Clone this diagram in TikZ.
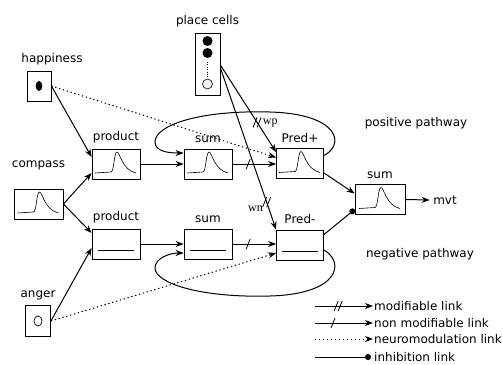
\documentclass[tikz,border=0pt]{standalone}
\usepackage{fontspec}
\setmainfont{DejaVu Sans}
\newfontfamily\wfont{Liberation Serif}
\usetikzlibrary{arrows.meta,decorations.markings}

\tikzset{
  unit/.style={draw, line width=0.8pt, minimum width=48pt, minimum height=30pt, inner sep=0},
  cell/.style={draw, line width=0.8pt, minimum width=25pt, minimum height=30pt, inner sep=0},
  link/.style={line width=1pt, -{Stealth[length=8pt,width=6pt,inset=2.5pt]}},
  neuro/.style={link, dash pattern=on 1.3pt off 2.7pt},
  inhib/.style={line width=1pt, -{Circle[length=6pt]}},
  modif/.style={decoration={markings, mark=at position #1 with
    {\pgftransformresetnontranslations
     \draw[-, solid, line width=0.8pt] (-4pt,-5pt) -- (0pt,5pt) (0pt,-5pt) -- (4pt,5pt);}},
    postaction={decorate}},
  fixed/.style={decoration={markings, mark=at position #1 with
    {\pgftransformresetnontranslations
     \draw[-, solid, line width=0.8pt] (-2pt,-5pt) -- (2pt,5pt);}},
    postaction={decorate}},
  legend/.style={anchor=west, inner sep=1pt},
}

% activity profile drawn inside a unit
\newcommand{\bellcurve}[1]{%
  \draw[line width=0.6pt] ([shift={(-21pt,-9pt)}]#1.center) -- ([shift={(-5pt,-8pt)}]#1.center)
    .. controls ([shift={(-2pt,-8pt)}]#1.center) and ([shift={(-2pt,12pt)}]#1.center) .. ([shift={(1pt,12pt)}]#1.center)
    .. controls ([shift={(4pt,12pt)}]#1.center) and ([shift={(6pt,-6pt)}]#1.center) .. ([shift={(20pt,-9pt)}]#1.center);}
\newcommand{\flatline}[1]{%
  \draw[line width=0.6pt] ([shift={(-18pt,-6pt)}]#1.center) -- ([shift={(18pt,-6pt)}]#1.center);}

\begin{document}
\begin{tikzpicture}[x=1pt, y=-1pt, font=\fontsize{12}{14}\selectfont, label distance=2pt]
    \useasboundingbox (0,0) rectangle (503,364);

    % Inputs
    \node[cell, minimum height=62pt, label=above:{place cells}] (place) at (207.5,64) {};
    \node[cell, minimum width=24pt, label={[xshift=13pt]above:happiness}] (happy) at (39,86) {};
    \node[unit, minimum width=49pt, label={[label distance=15pt]above:compass}] (compass) at (38.5,204) {};
    \node[cell, minimum height=31pt, label=above:anger] (anger) at (38,321) {};

    % Positive pathway
    \node[unit, label=above:product] (prodP) at (116,164) {};
    \node[unit, label=above:sum] (sumP) at (208,164) {};
    \node[unit, minimum width=47pt, label=above:{Pred+}] (predP) at (300,163.5) {};

    % Negative pathway
    \node[unit, label=above:product] (prodN) at (116,244) {};
    \node[unit, label=above:sum] (sumN) at (208,244) {};
    \node[unit, minimum width=47pt, label=above:{Pred-}] (predN) at (300,245) {};

    % Output
    \node[unit, minimum width=50pt, label=above:sum] (out) at (380,199.5) {};
    \node (mvt) at (445,200) {mvt};
    \node (pos) at (416,123) {positive pathway};
    \node (neg) at (420,254) {negative pathway};

    % Unit contents
    \fill ([yshift=23pt]place.center) circle (5pt);
    \fill ([yshift=11pt]place.center) circle (5pt);
    \draw[dotted] ([yshift=2pt]place.center) -- ([yshift=-14pt]place.center);
    \draw[line width=0.6pt, fill=gray!10] ([yshift=-20pt]place.center) circle (5pt);
    \fill (happy.center) ellipse [x radius=3.3pt, y radius=5pt];
    \draw[line width=0.7pt] (anger.center) ellipse [x radius=4pt, y radius=5pt];
    \bellcurve{compass}
    \bellcurve{prodP}
    \bellcurve{sumP}
    \bellcurve{predP}
    \bellcurve{out}
    \flatline{prodN}
    \flatline{sumN}
    \flatline{predN}

    % Links
    \draw[link] (happy.east) -- ([yshift=7pt]prodP.west);
    \draw[link] (compass.east) -- ([yshift=-9pt]prodP.west);
    \draw[link] (compass.east) -- ([yshift=11pt]prodN.west);
    \draw[link] (anger.east) -- ([yshift=-4pt]prodN.west);
    \draw[link] (prodP.east) -- (sumP.west);
    \draw[link] (prodN.east) -- (sumN.west);
    \draw[link, fixed=0.36] (sumP.east) -- (sumP.east -| predP.west);
    \draw[link, fixed=0.36] (sumN.east) -- (sumN.east -| predN.west);
    \draw[link, modif=0.66] ([yshift=-1pt]place.east) -- ([yshift=-4pt]predP.north west)
        node[pos=0.66, right=2pt, font=\wfont\fontsize{12}{14}\selectfont] {wp};
    \draw[link, modif=0.83] ([yshift=-4pt]place.east) -- (predN.north west)
        node[pos=0.83, below left=0pt, font=\wfont\fontsize{12}{14}\selectfont] {wn};
    \draw[neuro] (happy.east) -- ([yshift=6pt]predP.west);
    \draw[neuro] (anger.east) -- ([yshift=-8pt]predN.west);

    % Recurrent loops
    \draw[link] ([yshift=8pt]predP.east) .. controls (345,145) and (340,114) .. (270,112)
        .. controls (200,110) and (155,125) .. (155,142)
        .. controls (155,152) and (170,153) .. ([yshift=11pt]sumP.west);
    \draw[link] ([yshift=-5pt]predN.east) .. controls (345,262) and (340,294) .. (270,296)
        .. controls (200,298) and (155,283) .. (155,268)
        .. controls (155,258) and (170,253) .. ([yshift=-9pt]sumN.west);

    \draw[link] ([yshift=6pt]predP.south east) -- ([yshift=6pt]out.west);
    \draw[inhib] ([yshift=-5pt]predN.north east) -- ([yshift=-10pt]out.west);
    \draw[link] (out.east) -- (mvt.west);

    % Legend
    \node[legend] (lmod) at (373,306) {modifiable link};
    \node[legend] (lfix) at (373,323) {non modifiable link};
    \node[legend] (lneu) at (373,339) {neuromodulation link};
    \node[legend] (linh) at (373,357) {inhibition link};
    \coordinate (smod) at (315,306);
    \coordinate (sfix) at (315,323);
    \coordinate (sneu) at (315,339);
    \coordinate (sinh) at (315,357);
    \draw[link, modif=0.4] (smod) -- (lmod.west);
    \draw[link, fixed=0.31] (sfix) -- (lfix.west);
    \draw[neuro] (sneu) -- (lneu.west);
    \draw[inhib, shorten >=2pt] (sinh) -- (linh.west);

\end{tikzpicture}
\end{document}
